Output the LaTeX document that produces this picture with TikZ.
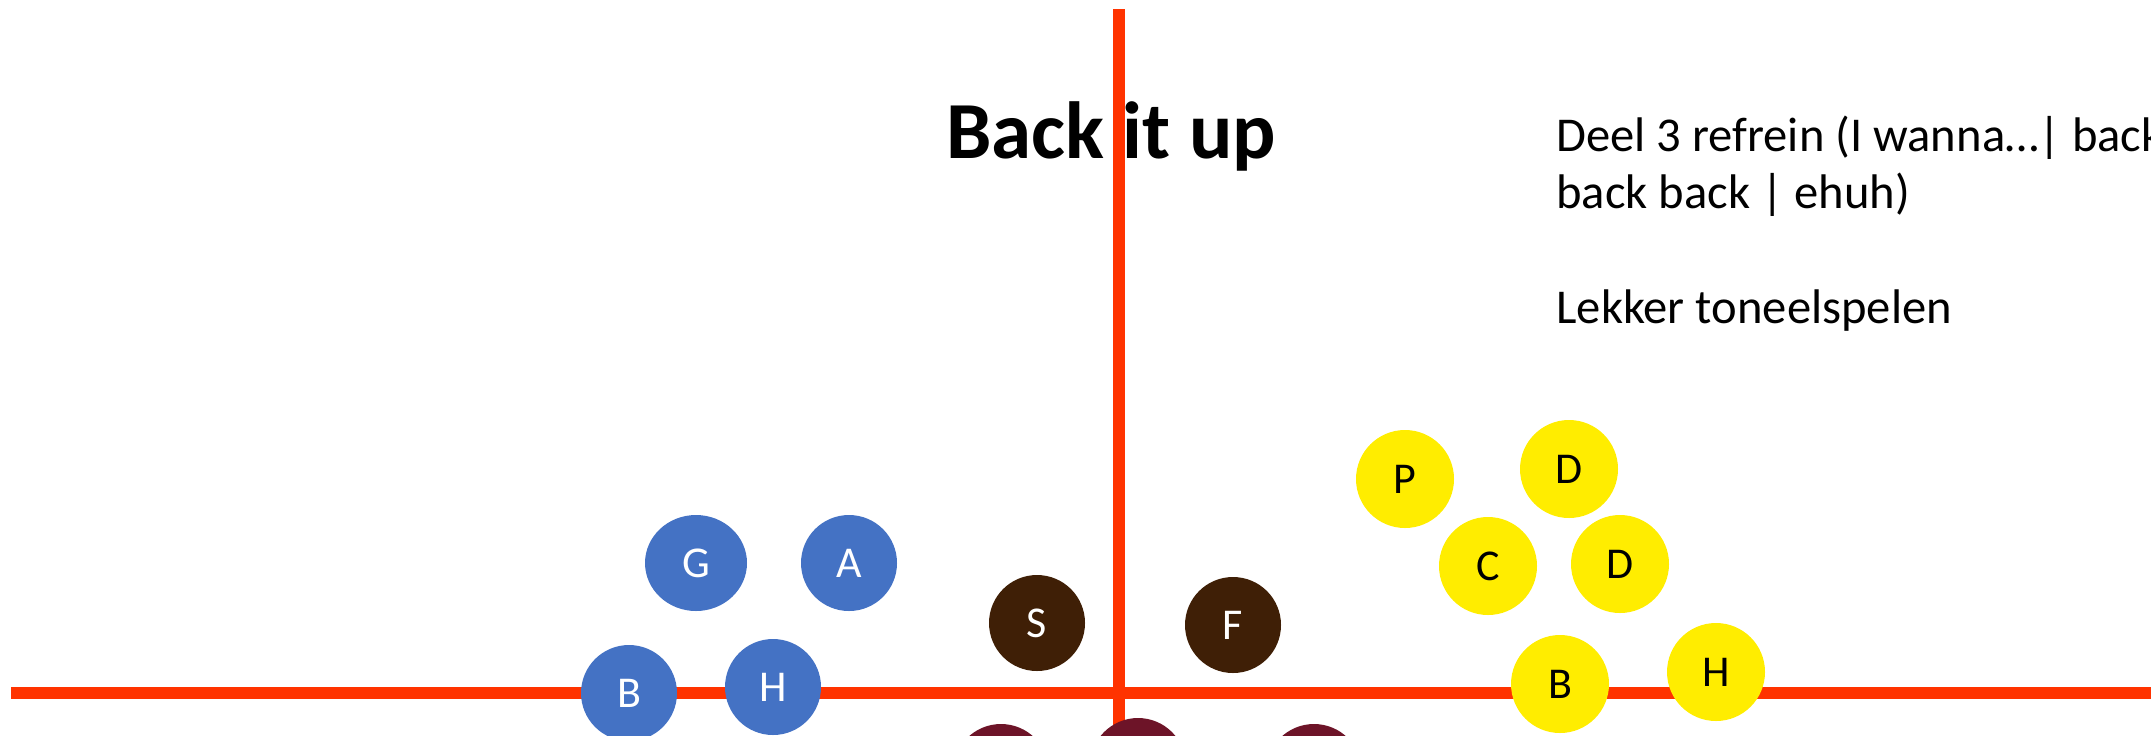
\documentclass[tikz,border=0pt]{standalone}
\usepackage{fontspec}
\setmainfont{Carlito}
\usetikzlibrary{shapes.geometric}
\definecolor{axisred}{HTML}{FF3300}
\definecolor{dotblue}{HTML}{4472C4}
\definecolor{dotbrown}{HTML}{3F1F06}
\definecolor{dotwine}{HTML}{6D1428}
\definecolor{dotyellow}{HTML}{FFED00}
\tikzset{
  axisline/.style={draw=axisred, line width=6pt},
  dotbase/.style={circle, minimum size=48pt, inner sep=0pt, font=\fontsize{22}{26}\selectfont},
  bluedot/.style={dotbase, fill=dotblue, text=white},
  browndot/.style={dotbase, fill=dotbrown, text=white},
  winedot/.style={dotbase, fill=dotwine},
  yellowdot/.style={dotbase, minimum size=49pt, fill=dotyellow, text=black},
  titletext/.style={font=\fontsize{40.5}{46}\selectfont\bfseries, inner sep=0pt},
  bodytext/.style={font=\fontsize{24.3}{29}\selectfont, inner sep=0pt, anchor=base west},
}
\begin{document}
\begin{tikzpicture}[x=0.5pt,y=-0.5pt]
\useasboundingbox (0,0) rectangle (2151,735);
\clip (0,0) rectangle (2151,735);
% texts
\node[titletext, anchor=base west] (title) at (946,158) {Back it up};
\node[bodytext] (l1) at (1556,151) {Deel 3 refrein (I wanna…| back};
\node[bodytext] (l2) at (1556,208) {back back | ehuh)};
\node[bodytext] (l3) at (1556,323) {Lekker toneelspelen};
% axes
\coordinate (hl) at (11,693);
\coordinate (hr) at (2160,693);
\coordinate (vt) at (1119,9);
\coordinate (vb) at (1119,745);
\draw[axisline] (hl) -- (hr);
\draw[axisline] (vt) -- (vb);
% blue
\node[bluedot, ellipse, minimum width=51pt, minimum height=48pt] (g) at (696,563) {G};
\node[bluedot] (a) at (849,563) {A};
\node[bluedot] (bb) at (629,693) {B};
\node[bluedot] (bh) at (773,687) {H};
% brown
\node[browndot] (s) at (1037,623) {S};
\node[browndot] (f) at (1233,625) {F};
% yellow
\node[yellowdot] (p) at (1405,479) {P};
\node[yellowdot] (d1) at (1569,469) {D};
\node[yellowdot] (c) at (1488,566) {C};
\node[yellowdot] (d2) at (1620,564) {D};
\node[yellowdot] (yb) at (1560,684) {B};
\node[yellowdot] (yh) at (1716,672) {H};
% wine (partly visible)
\node[winedot] (w1) at (1001,772) {};
\node[winedot] (w2) at (1138,766) {};
\node[winedot] (w3) at (1314,772) {};
\end{tikzpicture}
\end{document}
